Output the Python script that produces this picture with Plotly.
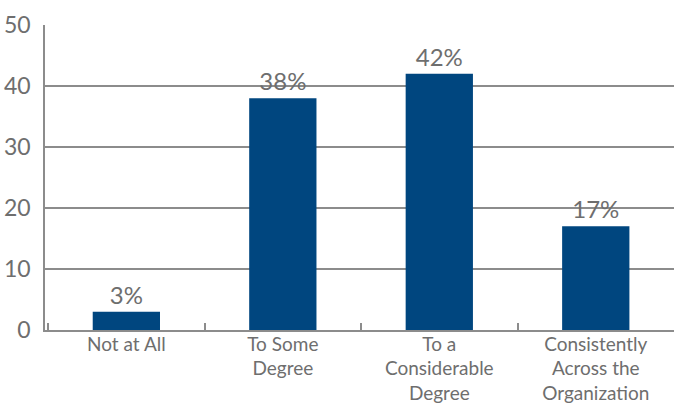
import plotly.graph_objects as go

categories = ["Not at All", "To Some<br>Degree", "To a<br>Considerable<br>Degree",
              "Consistently<br>Across the<br>Organization"]
values = [3, 38, 42, 17]
y_ticks = [0, 10, 20, 30, 40, 50]

BAR = "#00467f"
TXT = "#6e6e6e"
GRID = "#8c8c8c"
FONT = "Lato, 'Open Sans', sans-serif"

fig = go.Figure(go.Bar(
    x=categories, y=values,
    marker=dict(color=BAR, line=dict(width=0)),
    width=0.43,
    texttemplate="%{y}%",
    textposition="outside",
    textfont=dict(color=TXT, size=24, family=FONT),
    cliponaxis=False,
))

fig.update_layout(
    width=674, height=405,
    margin=dict(l=45, r=0, t=25, b=75, autoexpand=False),
    paper_bgcolor="white", plot_bgcolor="white",
    showlegend=False,
    font=dict(family=FONT, color=TXT),
)
fig.update_xaxes(
    range=[-0.52, 3.5], automargin=False,
    showline=True, linecolor=GRID, linewidth=1.5,
    ticks="inside", tickson="boundaries", ticklen=7, tickcolor=GRID, tickwidth=1.5,
    tickfont=dict(size=19, color=TXT, family=FONT),
    ticklabelstandoff=-4,
    showgrid=False,
)
fig.update_yaxes(
    range=[0, 50], tickvals=y_ticks, automargin=False,
    showline=True, linecolor=GRID, linewidth=1.5,
    showgrid=True, gridcolor=GRID, gridwidth=1.5,
    zeroline=False,
    ticks="", ticklabelstandoff=8,
    tickfont=dict(size=23, color=TXT, family=FONT),
)

fig.write_html("out.html", config={"displayModeBar": False},
               post_script="document.body.style.margin='0';document.body.style.overflow='hidden';")
